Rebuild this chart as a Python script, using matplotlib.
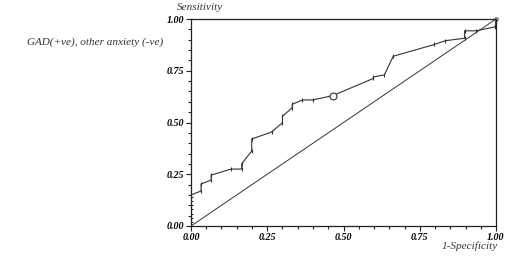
import matplotlib
matplotlib.use("Agg")
import matplotlib.pyplot as plt
import numpy as np
from matplotlib.ticker import MultipleLocator

# ROC curve points (1-specificity, sensitivity)
fpr = [0.000, 0.000, 0.033, 0.033, 0.066, 0.066, 0.131, 0.166, 0.166,
       0.199, 0.199, 0.264, 0.300, 0.300, 0.332, 0.332, 0.365, 0.399,
       0.465, 0.598, 0.598, 0.634, 0.663, 0.798, 0.833, 0.897, 0.897,
       0.935, 0.997, 1.000]
tpr = [0.000, 0.150, 0.169, 0.203, 0.222, 0.246, 0.275, 0.275, 0.300,
       0.362, 0.420, 0.454, 0.499, 0.530, 0.572, 0.588, 0.609, 0.609,
       0.630, 0.713, 0.720, 0.730, 0.820, 0.877, 0.895, 0.907, 0.943,
       0.943, 0.962, 1.000]
# cut-off tick positions stacked on the y axis near the origin
axis_ticks_y = [0.02, 0.04, 0.06, 0.08, 0.10, 0.12, 0.14]
optimal = (0.465, 0.630)

tick_font = dict(family="Liberation Serif", style="italic", weight="bold", size=7.2)
label_font = dict(family="Liberation Serif", style="italic", size=8)

fig = plt.figure(figsize=(5.19, 2.63), dpi=100)
ax = fig.add_axes([0.368, 0.1407, 0.5877, 0.787])

ax.plot([0, 1], [0, 1], color="#333333", linewidth=0.7)
ax.plot(fpr, tpr, color="#333333", linewidth=0.8, marker="|",
        markersize=3, markeredgewidth=0.8)
ax.plot([0] * len(axis_ticks_y), axis_ticks_y, linestyle="none", marker="_",
        markersize=3, color="#333333", markeredgewidth=0.8)
ax.plot(*optimal, marker="o", markersize=5, markerfacecolor="white",
        markeredgecolor="#333333", markeredgewidth=0.8)
ax.plot(1.0, 1.0, marker="o", markersize=2.5, markerfacecolor="white",
        markeredgecolor="#333333", markeredgewidth=0.6, clip_on=False)

ax.set_xlim(0, 1)
ax.set_ylim(0, 1)
ax.xaxis.set_minor_locator(MultipleLocator(0.05))
ax.yaxis.set_minor_locator(MultipleLocator(0.05))
ax.tick_params(which="both", direction="out", width=0.8, color="#222222", pad=1.5)
ax.tick_params(which="major", length=3.5)
ax.tick_params(which="minor", length=2.5)
ax.set_xticks([0, 0.25, 0.5, 0.75, 1.0])
ax.set_xticklabels(["0.00", "0.25", "0.50", "0.75", "1.00"], **tick_font)
ax.set_yticks([0, 0.25, 0.5, 0.75, 1.0])
ax.set_yticklabels(["0.00", "0.25", "0.50", "0.75", "1.00"], **tick_font)
for s in ax.spines.values():
    s.set_linewidth(0.9)
    s.set_color("#222222")

fig.text(200 / 519, 1 - 8 / 263, "Sensitivity", ha="center", va="center",
         color="#333333", **label_font)
fig.text(470 / 519, 1 - 246 / 263, "1-Specificity", ha="center", va="center",
         color="#333333", **label_font)
fig.text(95 / 519, 1 - 42 / 263, "GAD(+ve), other anxiety (-ve)", ha="center",
         va="center", color="#333333", **label_font)

fig.savefig("out.png", dpi=100)
